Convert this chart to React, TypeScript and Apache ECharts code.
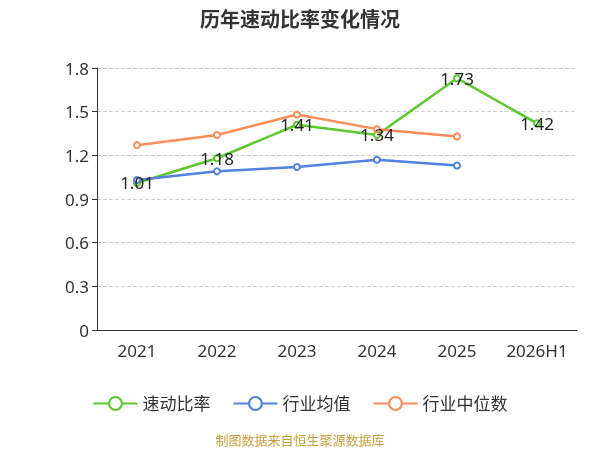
import React, { useEffect, useRef } from "react";
import * as echarts from "echarts";

const categories = ["2021", "2022", "2023", "2024", "2025", "2026H1"];
const quickRatio = [1.01, 1.18, 1.41, 1.34, 1.73, 1.42];
const industryMean = [1.03, 1.09, 1.12, 1.17, 1.13];
const industryMedian = [1.27, 1.34, 1.48, 1.38, 1.33];

const font = "'Noto Sans', 'Noto Sans CJK SC', sans-serif";

const App: React.FC = () => {
  const ref = useRef<HTMLDivElement>(null);

  useEffect(() => {
    if (!ref.current) return;
    const chart = echarts.init(ref.current, undefined, { renderer: "svg" });
    chart.setOption({
      animation: false,
      textStyle: { fontFamily: font },
      title: {
        text: "历年速动比率变化情况",
        left: "center",
        top: 4,
        textStyle: { fontSize: 20, fontWeight: "bold", color: "#333", fontFamily: font },
      },
      graphic: [
        {
          type: "text",
          left: "center",
          top: 433,
          style: { text: "制图数据来自恒生聚源数据库", fill: "#c8a040", fontSize: 13, fontFamily: font },
        },
      ],
      legend: {
        top: 390,
        itemWidth: 44,
        itemHeight: 16,
        itemGap: 22,
        textStyle: { fontSize: 17, color: "#333" },
        data: ["速动比率", "行业均值", "行业中位数"],
      },
      grid: { left: 97, right: 23, top: 68, bottom: 120 },
      xAxis: {
        type: "category",
        data: categories,
        axisLine: { lineStyle: { color: "#333" } },
        axisTick: { lineStyle: { color: "#333" } },
        axisLabel: { fontSize: 17, color: "#333", margin: 12 },
      },
      yAxis: {
        type: "value",
        min: 0,
        max: 1.8,
        interval: 0.3,
        axisLine: { show: true, lineStyle: { color: "#333" } },
        axisTick: { show: true, lineStyle: { color: "#333" } },
        axisLabel: { fontSize: 17, color: "#333", formatter: (v: number) => (v === 0 ? "0" : v.toFixed(1)) },
        splitLine: { lineStyle: { type: "dashed", color: "#ccc" } },
      },
      series: [
        {
          name: "速动比率",
          type: "line",
          data: quickRatio,
          symbol: "emptyCircle",
          symbolSize: 6,
          itemStyle: { color: "#5cc72e" },
          lineStyle: { width: 2.5 },
          z: 3,
          label: {
            show: true,
            position: "inside",
            fontSize: 17,
            color: "#222",
            formatter: (p: any) => p.value.toFixed(2),
          },
        },
        {
          name: "行业均值",
          type: "line",
          data: industryMean,
          symbol: "emptyCircle",
          symbolSize: 6,
          itemStyle: { color: "#5281e0" },
          lineStyle: { width: 2.5 },
        },
        {
          name: "行业中位数",
          type: "line",
          data: industryMedian,
          symbol: "emptyCircle",
          symbolSize: 6,
          itemStyle: { color: "#fb8d5b" },
          lineStyle: { width: 2.5 },
        },
      ],
    });
    return () => chart.dispose();
  }, []);

  return <div ref={ref} style={{ position: "fixed", left: 0, top: 0, width: 600, height: 450 }} />;
};

export default App;
